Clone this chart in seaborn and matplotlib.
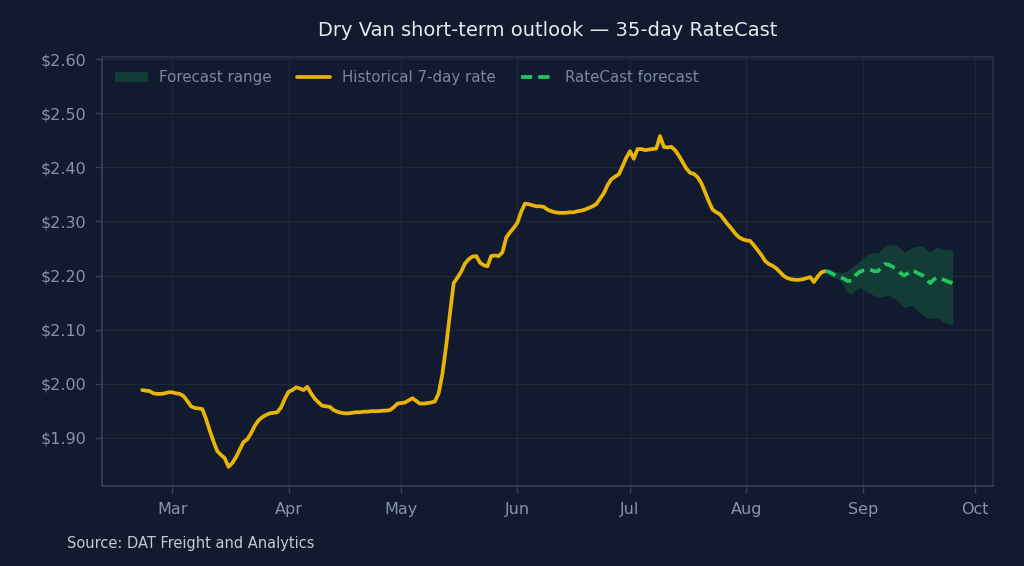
"""Dry Van short-term outlook chart with RateCast forecast band."""

import numpy as np
import pandas as pd
import matplotlib
matplotlib.use("Agg")
import matplotlib.pyplot as plt
import matplotlib.dates as mdates
from matplotlib.patches import Patch
from matplotlib.lines import Line2D
import seaborn as sns

# ---- data ----
hist_start = "2025-02-21"
hist_rate = [
    1.988, 1.987, 1.986, 1.982, 1.981, 1.981, 1.982, 1.984,  # Feb 21-28
    1.984, 1.982, 1.981, 1.977, 1.968, 1.958, 1.955, 1.954, 1.953, 1.935,
    1.913, 1.893, 1.875, 1.868, 1.862, 1.846, 1.853, 1.864, 1.878, 1.892,
    1.897, 1.908, 1.922, 1.932, 1.938, 1.942, 1.945, 1.946, 1.947, 1.956,
    1.972,  # Mar
    1.985, 1.988, 1.993, 1.991, 1.988, 1.994, 1.982, 1.972, 1.965, 1.959,
    1.958, 1.957, 1.951, 1.948, 1.946, 1.945, 1.945, 1.946, 1.947, 1.947,
    1.948, 1.948, 1.949, 1.949, 1.949, 1.950, 1.950, 1.951, 1.956, 1.963,  # Apr
    1.964, 1.965, 1.969, 1.973, 1.968, 1.963, 1.963, 1.964, 1.965, 1.967,
    1.982, 2.018, 2.070, 2.129, 2.186, 2.196, 2.207, 2.222, 2.230, 2.235,
    2.236, 2.224, 2.219, 2.217, 2.236, 2.237, 2.236, 2.243, 2.270, 2.280,
    2.288,  # May
    2.298, 2.318, 2.333, 2.332, 2.330, 2.328, 2.328, 2.327, 2.322, 2.319,
    2.317, 2.316, 2.316, 2.316, 2.317, 2.317, 2.319, 2.320, 2.322, 2.325,
    2.328, 2.332, 2.342, 2.352, 2.367, 2.378, 2.383, 2.387, 2.402, 2.418,  # Jun
    2.430, 2.416, 2.434, 2.434, 2.432, 2.433, 2.434, 2.435, 2.458, 2.438,
    2.437, 2.438, 2.432, 2.422, 2.410, 2.398, 2.390, 2.388, 2.382, 2.371,
    2.354, 2.337, 2.322, 2.317, 2.313, 2.304, 2.295, 2.287, 2.278, 2.271,
    2.267,  # Jul
    2.265, 2.264, 2.256, 2.247, 2.238, 2.227, 2.221, 2.218, 2.213, 2.206,
    2.199, 2.195, 2.193, 2.192, 2.192, 2.193, 2.195, 2.197, 2.188, 2.198,
    2.206, 2.208,  # Aug 1-22
]

fc_start = "2025-08-22"
fc_rate = [
    2.208, 2.207, 2.203, 2.199, 2.197, 2.194, 2.190, 2.190, 2.200, 2.206,
    2.209, 2.210, 2.211, 2.208, 2.208, 2.214, 2.221, 2.220, 2.216, 2.211,
    2.205, 2.200, 2.204, 2.209, 2.207, 2.203, 2.200, 2.192, 2.186, 2.193,
    2.196, 2.194, 2.191, 2.188, 2.186,
]
fc_high = [
    2.208, 2.209, 2.208, 2.207, 2.206, 2.206, 2.210, 2.216, 2.220, 2.225,
    2.232, 2.238, 2.241, 2.243, 2.241, 2.248, 2.255, 2.257, 2.256, 2.256,
    2.250, 2.243, 2.247, 2.252, 2.253, 2.254, 2.254, 2.249, 2.243, 2.249,
    2.254, 2.250, 2.248, 2.248, 2.248,
]
fc_low = [
    2.206, 2.201, 2.197, 2.194, 2.190, 2.180, 2.168, 2.165, 2.172, 2.177,
    2.175, 2.170, 2.167, 2.163, 2.160, 2.161, 2.162, 2.163, 2.159, 2.155,
    2.148, 2.141, 2.143, 2.144, 2.139, 2.133, 2.128, 2.122, 2.120, 2.122,
    2.122, 2.116, 2.113, 2.110, 2.107,
]

hist = pd.DataFrame({
    "date": pd.date_range(hist_start, periods=len(hist_rate), freq="D"),
    "rate": hist_rate,
})
fc = pd.DataFrame({
    "date": pd.date_range(fc_start, periods=len(fc_rate), freq="D"),
    "rate": fc_rate,
    "low": fc_low,
    "high": fc_high,
})

# ---- style ----
BG = "#111a2e"
GRID = "#1f2839"
SPINE = "#37425a"
TICK_TXT = "#8893a7"
YELLOW = "#eab308"
GREEN = "#22c55e"
BAND = "#143c36"

sns.set_theme(style="darkgrid", rc={
    "figure.facecolor": BG,
    "axes.facecolor": BG,
    "axes.edgecolor": SPINE,
    "grid.color": GRID,
    "grid.linewidth": 0.9,
    "xtick.color": SPINE,
    "ytick.color": SPINE,
    "xtick.labelcolor": TICK_TXT,
    "ytick.labelcolor": TICK_TXT,
    "xtick.bottom": True,
    "ytick.left": True,
    "xtick.major.size": 5,
    "ytick.major.size": 5,
})
plt.rcParams["font.family"] = ["DejaVu Sans"]

fig = plt.figure(figsize=(10.24, 5.66), dpi=100)
ax = fig.add_axes([0.0993, 0.1408, 0.8707, 0.7592])

ax.fill_between(fc["date"], fc["low"], fc["high"], color=BAND, lw=0, zorder=1)
sns.lineplot(data=hist, x="date", y="rate", ax=ax, color=YELLOW, lw=2.7, zorder=3)
sns.lineplot(data=fc, x="date", y="rate", ax=ax, color=GREEN, lw=2.7,
             dashes=False, zorder=4)
ax.lines[-1].set_linestyle((0, (3, 1.6)))

ax.set_ylim(1.81, 2.605)
ax.set_yticks(np.arange(1.9, 2.61, 0.1))
ax.yaxis.set_major_formatter(plt.FuncFormatter(lambda v, _: f"${v:.2f}"))
ax.xaxis.set_major_locator(mdates.MonthLocator())
ax.xaxis.set_major_formatter(mdates.DateFormatter("%b"))
ax.tick_params(labelsize=11.5, width=1, pad=6)
ax.set_xlabel("")
ax.set_ylabel("")
ax.grid(True, color=GRID, lw=0.9)

for side, sp in ax.spines.items():
    sp.set_visible(True)
    sp.set_color(SPINE if side in ("left", "bottom") else "#27324a")
    sp.set_linewidth(1.2)

handles = [
    Patch(facecolor=BAND, edgecolor="none"),
    Line2D([], [], color=YELLOW, lw=2.7),
    Line2D([], [], color=GREEN, lw=2.7, ls=(0, (3, 1.6))),
]
labels = ["Forecast range", "Historical 7-day rate", "RateCast forecast"]
leg = ax.legend(handles, labels, loc="upper left", ncol=3, frameon=False,
                fontsize=10.8, handlelength=2.2, handletextpad=0.75,
                columnspacing=1.7, borderaxespad=0.5,
                bbox_to_anchor=(0.0, 1.0))
for t in leg.get_texts():
    t.set_color("#7d889c")

ax.set_title("Dry Van short-term outlook \u2014 35-day RateCast",
             color="#e6e9ee", fontsize=14, pad=15)
fig.text(0.0654, 0.0406, "Source: DAT Freight and Analytics",
         color="#c3c9d3", fontsize=10.5, va="center", ha="left")

fig.savefig("out.png", dpi=100, facecolor=BG)
